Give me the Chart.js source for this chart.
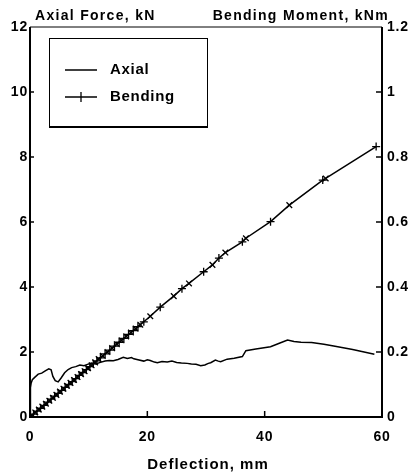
<!DOCTYPE html>
<html>
<head>
<meta charset="utf-8">
<script src="https://cdn.jsdelivr.net/npm/chart.js@4"></script>
<style>
html,body{margin:0;padding:0;background:#fff;}
#wrap{width:417px;height:475px;}
</style>
</head>
<body>
<div id="wrap"><canvas id="c" width="417" height="475"></canvas></div>
<script>
// ---- data ----
const seriesLabels = ['Axial', 'Bending'];
const axisTitles = { left: 'Axial Force, kN', right: 'Bending Moment, kNm', bottom: 'Deflection, mm' };

const axialDeflection = [0, 0.05, 0.1, 0.2, 0.4, 0.8, 1.4, 2.0, 2.6, 3.2, 3.6, 3.9, 4.3, 4.8, 5.3, 5.9, 6.5, 7.1, 7.8, 8.5, 9.2, 9.8, 10.5, 11.2, 12.0, 12.8, 13.5, 14.2, 15.0, 15.9, 16.6, 17.3, 17.7, 18.4, 19.4, 20.0, 20.5, 21.2, 21.7, 22.5, 23.4, 24.2, 25.0, 25.8, 26.8, 27.5, 28.3, 29.1, 29.8, 30.4, 30.8, 31.6, 32.1, 32.5, 33.6, 34.8, 36.2, 36.5, 36.8, 38.5, 41.0, 42.5, 43.9, 45.0, 46.2, 48.0, 50.1, 52.0, 55.0, 58.7];
const axialForce = [0, 0.5, 0.9, 1.05, 1.15, 1.22, 1.32, 1.35, 1.42, 1.48, 1.45, 1.25, 1.12, 1.08, 1.2, 1.36, 1.46, 1.52, 1.55, 1.6, 1.58, 1.62, 1.66, 1.63, 1.68, 1.72, 1.74, 1.73, 1.77, 1.84, 1.80, 1.83, 1.79, 1.76, 1.72, 1.76, 1.74, 1.69, 1.67, 1.71, 1.69, 1.72, 1.68, 1.66, 1.65, 1.63, 1.62, 1.58, 1.6, 1.65, 1.67, 1.75, 1.72, 1.70, 1.78, 1.81, 1.86, 1.95, 2.04, 2.09, 2.16, 2.27, 2.37, 2.32, 2.30, 2.29, 2.24, 2.18, 2.08, 1.93];

const bendingDeflection = [0, 0.3, 0.6, 0.9, 1.2, 1.5, 1.8, 2.1, 2.4, 2.7, 3.0, 3.3, 3.6, 3.9, 4.2, 4.5, 4.8, 5.1, 5.4, 5.7, 6.0, 6.3, 6.6, 6.9, 7.2, 7.5, 7.8, 8.1, 8.4, 8.7, 9.0, 9.3, 9.6, 9.9, 10.2, 10.5, 10.8, 11.1, 11.4, 11.7, 12.0, 12.4, 12.8, 13.2, 13.6, 14.0, 14.4, 14.8, 15.2, 15.6, 16.0, 16.4, 16.8, 17.2, 17.6, 18.0, 18.4, 18.8, 19.4, 20.5, 22.2, 24.5, 25.9, 27.1, 29.6, 31.1, 32.2, 33.3, 36.2, 36.8, 41.0, 44.2, 49.9, 50.4, 59.0];
const bendingMoment = [0, 0.005, 0.009, 0.014, 0.018, 0.023, 0.027, 0.032, 0.036, 0.041, 0.046, 0.050, 0.055, 0.059, 0.064, 0.068, 0.073, 0.078, 0.082, 0.087, 0.091, 0.096, 0.100, 0.105, 0.109, 0.114, 0.118, 0.123, 0.128, 0.132, 0.137, 0.141, 0.146, 0.150, 0.155, 0.159, 0.164, 0.168, 0.173, 0.178, 0.182, 0.188, 0.194, 0.200, 0.206, 0.212, 0.218, 0.224, 0.230, 0.236, 0.242, 0.248, 0.254, 0.260, 0.266, 0.272, 0.278, 0.284, 0.293, 0.31, 0.338, 0.372, 0.395, 0.411, 0.447, 0.468, 0.489, 0.506, 0.539, 0.55, 0.601, 0.652, 0.729, 0.734, 0.832];

const xTickValues = [0, 20, 40, 60];
const leftTickValues = [0, 2, 4, 6, 8, 10, 12];
const rightTickValues = [0, 0.2, 0.4, 0.6, 0.8, 1.0, 1.2];

// ---- chart ----
const FONT = '"Liberation Sans", Arial, sans-serif';
const axialPoints = axialDeflection.map((x, i) => ({ x, y: axialForce[i] }));
const bendingPoints = bendingDeflection.map((x, i) => ({ x, y: bendingMoment[i] }));

const framePlugin = {
  id: 'frame',
  beforeDraw(chart) {
    const ctx = chart.ctx;
    ctx.save();
    ctx.fillStyle = '#fff';
    ctx.fillRect(0, 0, chart.width, chart.height);
    ctx.restore();
    ctx.letterSpacing = '0.8px';
  },
  afterDraw(chart) {
    const { ctx, chartArea: a, scales } = chart;
    ctx.save();
    ctx.strokeStyle = '#000';
    // frame
    ctx.lineWidth = 1;
    ctx.beginPath(); ctx.moveTo(a.left, a.top); ctx.lineTo(a.right, a.top); ctx.stroke();
    ctx.lineWidth = 2;
    ctx.beginPath(); ctx.moveTo(a.left, a.top); ctx.lineTo(a.left, a.bottom); ctx.lineTo(a.right, a.bottom); ctx.lineTo(a.right, a.top); ctx.stroke();
    // inward ticks
    ctx.lineWidth = 1.5;
    scales.y.ticks.forEach(t => {
      if (t.value <= 0 || t.value >= 12) return;
      const p = scales.y.getPixelForValue(t.value);
      ctx.beginPath(); ctx.moveTo(a.left, p); ctx.lineTo(a.left + 4, p); ctx.stroke();
    });
    scales.y2.ticks.forEach(t => {
      if (t.value <= 0 || t.value >= 1.2) return;
      const p = scales.y2.getPixelForValue(t.value);
      ctx.beginPath(); ctx.moveTo(a.right, p); ctx.lineTo(a.right - 6, p); ctx.stroke();
    });
    scales.x.ticks.forEach(t => {
      if (t.value <= 0 || t.value >= 60) return;
      const p = scales.x.getPixelForValue(t.value);
      ctx.beginPath(); ctx.moveTo(p, a.bottom); ctx.lineTo(p, a.bottom - 6); ctx.stroke();
    });
    // axis titles
    ctx.fillStyle = '#000';
    ctx.letterSpacing = '1.3px';
    ctx.font = 'bold 14px ' + FONT;
    ctx.textBaseline = 'middle';
    ctx.textAlign = 'left';
    ctx.fillText(axisTitles.left, a.left + 5, 16);
    ctx.textAlign = 'right';
    ctx.fillText(axisTitles.right, a.right + 7, 16);
    ctx.textAlign = 'center';
    ctx.letterSpacing = '1px';
    ctx.font = 'bold 15px ' + FONT;
    ctx.fillText(axisTitles.bottom, (a.left + a.right) / 2 + 2, 465);
    // legend
    const lx = 49, ly = 38, lw = 158, lh = 88;
    ctx.lineWidth = 1;
    ctx.strokeRect(lx + 0.5, ly + 0.5, lw, lh);
    ctx.lineWidth = 2;
    ctx.beginPath(); ctx.moveTo(lx, ly + lh + 1); ctx.lineTo(lx + lw + 1, ly + lh + 1); ctx.stroke();
    const rows = [ly + 32, ly + 59];
    ctx.font = 'bold 15px ' + FONT;
    ctx.letterSpacing = '0.7px';
    ctx.textAlign = 'left';
    chart.data.datasets.forEach((ds, i) => {
      const yy = rows[i];
      ctx.lineWidth = 1.5;
      ctx.beginPath(); ctx.moveTo(lx + 16, yy); ctx.lineTo(lx + 48, yy); ctx.stroke();
      if (ds.label === seriesLabels[1]) {
        ctx.lineWidth = 1.3;
        ctx.beginPath(); ctx.moveTo(lx + 32, yy - 5); ctx.lineTo(lx + 32, yy + 5); ctx.stroke();
      }
      ctx.fillText(ds.label, lx + 61, yy);
    });
    ctx.restore();
  }
};

new Chart(document.getElementById('c'), {
  type: 'line',
  data: {
    datasets: [
      {
        label: seriesLabels[0],
        data: axialPoints,
        yAxisID: 'y',
        borderColor: '#000',
        borderWidth: 1.5,
        pointRadius: 0,
        tension: 0,
        fill: false
      },
      {
        label: seriesLabels[1],
        data: bendingPoints,
        yAxisID: 'y2',
        borderColor: '#000',
        borderWidth: 1.5,
        pointStyle: c => (c.dataIndex % 2 ? 'crossRot' : 'cross'),
        pointRadius: 4,
        pointBorderWidth: 1.3,
        pointBorderColor: '#000',
        tension: 0,
        fill: false
      }
    ]
  },
  options: {
    responsive: false,
    animation: false,
    layout: { padding: { top: 27, left: 0, right: 0, bottom: 0 } },
    plugins: { legend: { display: false }, tooltip: { enabled: false } },
    scales: {
      x: {
        type: 'linear', min: 0, max: 60,
        afterBuildTicks: s => { s.ticks = xTickValues.map(v => ({ value: v })); },
        afterFit: s => { s.height = 58; },
        grid: { display: false, drawTicks: false },
        border: { display: false },
        ticks: { color: '#000', font: { family: FONT, size: 14, weight: 'bold' }, padding: 12, maxRotation: 0 }
      },
      y: {
        type: 'linear', position: 'left', min: 0, max: 12,
        afterBuildTicks: s => { s.ticks = leftTickValues.map(v => ({ value: v })); },
        afterFit: s => { s.width = 30; },
        grid: { display: false, drawTicks: false },
        border: { display: false },
        ticks: { color: '#000', font: { family: FONT, size: 14, weight: 'bold' }, padding: 2 }
      },
      y2: {
        type: 'linear', position: 'right', min: 0, max: 1.2,
        afterBuildTicks: s => { s.ticks = rightTickValues.map(v => ({ value: v })); },
        afterFit: s => { s.width = 35; },
        grid: { display: false, drawTicks: false },
        border: { display: false },
        ticks: { color: '#000', font: { family: FONT, size: 14, weight: 'bold' }, padding: 5,
          callback: v => String(+Number(v).toFixed(1)) }
      }
    }
  },
  plugins: [framePlugin]
});
</script>
</body>
</html>
